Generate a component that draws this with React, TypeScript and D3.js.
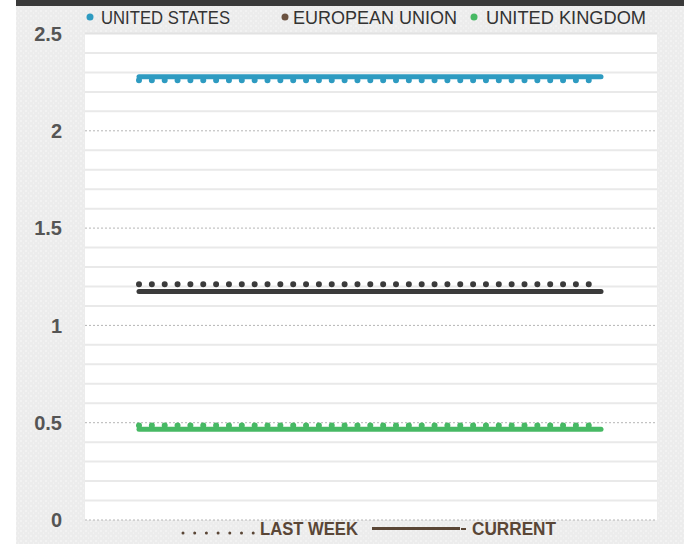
import React from "react";
import * as d3 from "d3";

const categories = ["Mon", "Tue", "Wed", "Thu", "Fri", "Sat", "Sun"];
const seriesNames = ["UNITED STATES", "EUROPEAN UNION", "UNITED KINGDOM"];
const usLastWeek = [2.26, 2.26, 2.26, 2.26, 2.26, 2.26, 2.26];
const usCurrent = [2.278, 2.278, 2.278, 2.278, 2.278, 2.278, 2.278];
const euLastWeek = [1.212, 1.212, 1.212, 1.212, 1.212, 1.212, 1.212];
const euCurrent = [1.174, 1.174, 1.174, 1.174, 1.174, 1.174, 1.174];
const ukLastWeek = [0.486, 0.486, 0.486, 0.486, 0.486, 0.486, 0.486];
const ukCurrent = [0.466, 0.466, 0.466, 0.466, 0.466, 0.466, 0.466];
const yTicks = [0, 0.5, 1, 1.5, 2, 2.5];
const legendBottom = ["LAST WEEK", "CURRENT"];

const W = 684;
const H = 544;
const plot = { left: 85, right: 657, top: 33.5, bottom: 520 };

export default function App() {
  const x = d3.scalePoint<string>().domain(categories).range([139, 601]);
  const y = d3.scaleLinear().domain([0, 2.5]).range([plot.bottom, plot.top]);
  const line = d3
    .line<number>()
    .x((_, i) => x(categories[i]) as number)
    .y((d) => y(d));

  const minorTicks = d3.range(0, 26).map((i) => i / 10).filter((v) => Math.abs(v * 2 - Math.round(v * 2)) > 1e-6);

  const series = [
    { name: seriesNames[0], color: "#2e9bc1", legendColor: "#2e9bc1", last: usLastWeek, cur: usCurrent },
    { name: seriesNames[1], color: "#3b3b3b", legendColor: "#6b5240", last: euLastWeek, cur: euCurrent },
    { name: seriesNames[2], color: "#47b964", legendColor: "#47b964", last: ukLastWeek, cur: ukCurrent },
  ];

  const legendPos = [
    { dot: 90, text: 101, len: 129 },
    { dot: 285, text: 293, len: 164 },
    { dot: 474, text: 486, len: 160 },
  ];

  return (
    <svg
      width={W}
      height={H}
      style={{ position: "absolute", left: 0, top: 0, display: "block" }}
      fontFamily="'Liberation Sans', Arial, sans-serif"
    >
      <defs>
        <pattern id="speck" width="5" height="5" patternUnits="userSpaceOnUse">
          <rect width="5" height="5" fill="#ececec" />
          <circle cx="1" cy="1" r="0.7" fill="#ffffff" opacity="0.8" />
          <circle cx="3.5" cy="3" r="0.6" fill="#ffffff" opacity="0.6" />
        </pattern>
      </defs>
      <rect x={0} y={0} width={W} height={H} fill="#ffffff" />
      <rect x={16} y={0} width={W - 16} height={H} fill="url(#speck)" />
      <rect x={16} y={0} width={W - 16} height={6} fill="#3a3a3a" />

      <rect x={plot.left} y={plot.top} width={plot.right - plot.left} height={plot.bottom - plot.top} fill="#ffffff" />

      {minorTicks.map((v) => (
        <line key={"m" + v} x1={plot.left} x2={plot.right} y1={y(v)} y2={y(v)} stroke="#e9e9e9" strokeWidth={2} />
      ))}
      {yTicks.map((v) => (
        <line
          key={"M" + v}
          x1={plot.left}
          x2={plot.right}
          y1={y(v)}
          y2={y(v)}
          stroke={v === 2.5 ? "#e2e2e2" : "#b5b5b5"}
          strokeWidth={v === 2.5 ? 2 : 1}
          strokeDasharray={v === 2.5 ? undefined : "2 2"}
        />
      ))}

      {yTicks.map((v) => (
        <text
          key={"t" + v}
          x={62}
          y={y(v)}
          dy="0.36em"
          textAnchor="end"
          fontSize={20}
          fontWeight="bold"
          fill="#555555"
        >
          {String(v)}
        </text>
      ))}

      {series.map((s) => (
        <g key={s.name}>
          <path
            d={line(s.last) as string}
            fill="none"
            stroke={s.color}
            strokeWidth={6}
            strokeLinecap="round"
            strokeDasharray="0 12.85"
          />
          <path d={line(s.cur) as string} fill="none" stroke={s.color} strokeWidth={5} strokeLinecap="round" />
        </g>
      ))}

      {series.map((s, i) => (
        <g key={"lg" + s.name}>
          <circle cx={legendPos[i].dot} cy={17} r={3.5} fill={s.legendColor} />
          <text
            x={legendPos[i].text}
            y={23.5}
            fontSize={18.5}
            fill="#333333"
            textLength={legendPos[i].len}
            lengthAdjust="spacingAndGlyphs"
          >
            {s.name}
          </text>
        </g>
      ))}

      <line x1={183} x2={253.5} y1={533} y2={533} stroke="#5a4636" strokeWidth={3} strokeLinecap="round" strokeDasharray="0 11.7" />
      <text x={260} y={535} fontSize={18.5} fontWeight="bold" fill="#5a4636" textLength={98} lengthAdjust="spacingAndGlyphs">
        {legendBottom[0]}
      </text>
      <line x1={372} x2={460} y1={528.5} y2={528.5} stroke="#5a4636" strokeWidth={3} />
      <line x1={461} x2={466} y1={529} y2={529} stroke="#5a4636" strokeWidth={2} />
      <text x={472} y={535} fontSize={18.5} fontWeight="bold" fill="#5a4636" textLength={84} lengthAdjust="spacingAndGlyphs">
        {legendBottom[1]}
      </text>
    </svg>
  );
}
